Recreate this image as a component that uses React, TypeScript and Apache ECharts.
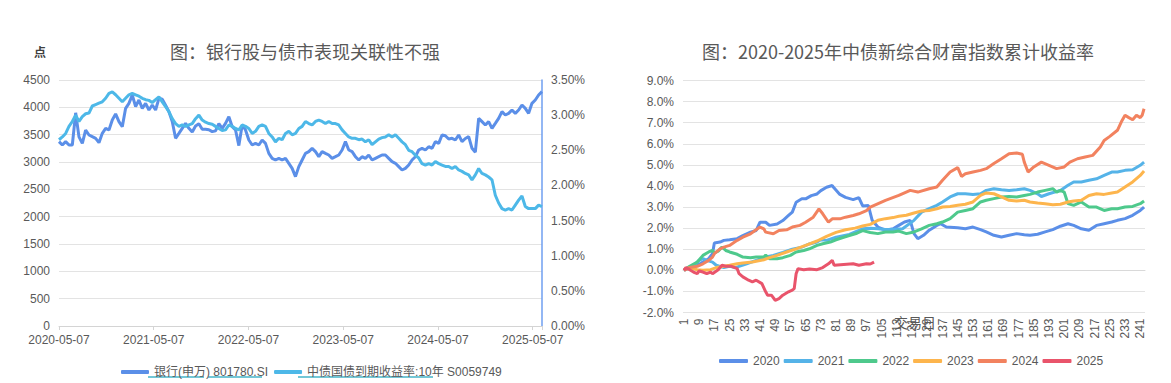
import React, { useEffect, useRef } from 'react';
import * as echarts from 'echarts';

// ---------- Left chart: bank index vs 10Y CGB yield ----------
const LEFT_TITLE = '图：银行股与债市表现关联性不强';
const LEFT_UNIT = '点';
const leftYearLabels = ['2020-05-07', '2021-05-07', '2022-05-07', '2023-05-07', '2024-05-07', '2025-05-07'];
const DAYS_PER_YEAR = 365.25;
const SAMPLE_DAYS = 12.84; // sampling step (calendar days) of the values below, starting 2020-05-07
const LEFT_MAX_DAY = 1862;
const BANK_NAME = '银行(申万) 801780.SI';
const YIELD_NAME = '中债国债到期收益率:10年 S0059749';

const bankIndex = [
  3372, 3311, 3372, 3311, 3311, 3900, 3460, 3341, 3585, 3494,
  3463, 3433, 3354, 3524, 3616, 3585, 3768, 3880, 3738, 3646,
  3982, 4073, 4226, 4012, 4134, 3982, 4073, 3951, 4043, 3951,
  4165, 4150, 4040, 3920, 3740, 3433, 3524, 3616, 3707, 3616,
  3550, 3660, 3700, 3600, 3600, 3590, 3555, 3570, 3700, 3616,
  3707, 3829, 3646, 3585, 3300, 3677, 3585, 3402, 3311, 3341,
  3311, 3402, 3341, 3158, 3067, 3036, 3067, 3036, 3067, 2976,
  2884, 2732, 2915, 3036, 3158, 3189, 3250, 3189, 3097, 3189,
  3158, 3128, 3067, 3097, 3128, 3219, 3372, 3219, 3189, 3097,
  3036, 3097, 3067, 3128, 3036, 3067, 3097, 3128,
  3128, 3067, 3006, 2976, 2915, 2854, 2884, 2945, 3036, 3097,
  3219, 3250, 3219, 3280, 3250, 3372, 3341, 3494, 3480, 3420,
  3433, 3402, 3494, 3372, 3430, 3463, 3250, 3180, 3799, 3738,
  3677, 3738, 3616, 3707, 3799, 3921, 3860, 3890, 3951, 3890,
  3951, 4043, 3982, 3890, 4073, 4134, 4226, 4287,
];

const bondYield10y = [
  2.65, 2.69, 2.74, 2.84, 2.91, 3.0, 2.91, 2.98, 3.02, 3.03,
  3.13, 3.15, 3.17, 3.19, 3.24, 3.31, 3.33, 3.29, 3.24, 3.19,
  3.24, 3.29, 3.31, 3.29, 3.27, 3.24, 3.22, 3.21, 3.18, 3.22,
  3.26, 3.19, 3.12, 3.05, 2.95, 2.88, 2.84, 2.86, 2.84, 2.86,
  2.88, 2.95, 3.0, 2.93, 2.9, 2.88, 2.87, 2.84, 2.81, 2.78,
  2.79, 2.86, 2.84, 2.81, 2.79, 2.86, 2.84, 2.81, 2.74, 2.77,
  2.84, 2.86, 2.84, 2.74, 2.69, 2.62, 2.67, 2.65, 2.74, 2.77,
  2.72, 2.74, 2.81, 2.84, 2.91, 2.88, 2.86, 2.91, 2.93, 2.91,
  2.88, 2.91, 2.88, 2.88, 2.86, 2.79, 2.74, 2.69, 2.67, 2.67,
  2.65, 2.66, 2.62, 2.65, 2.58, 2.62, 2.66, 2.68,
  2.69, 2.72, 2.69, 2.72, 2.67, 2.62, 2.58, 2.5, 2.48, 2.43,
  2.39, 2.31, 2.29, 2.31, 2.29, 2.34, 2.31, 2.29, 2.27, 2.27,
  2.24, 2.27, 2.22, 2.2, 2.17, 2.15, 2.08, 2.15, 2.24, 2.17,
  2.15, 2.12, 2.08, 1.86, 1.75, 1.67, 1.65, 1.67, 1.65, 1.72,
  1.79, 1.85, 1.7, 1.67, 1.67, 1.67, 1.72, 1.7,
];

// ---------- Right chart: cumulative return by year (trading day index, %) ----------
const RIGHT_TITLE = '图：2020-2025年中债新综合财富指数累计收益率';
const RIGHT_X_NAME = '交易日';
const TRADING_DAY_COUNT = 243;
const tradingDays = Array.from({ length: TRADING_DAY_COUNT }, (_, i) => String(i + 1));
const yearNames = ['2020', '2021', '2022', '2023', '2024', '2025'];

const ret2020: [number, number][] = [
  [0, 0.03], [3, 0.13], [7, 0.24], [10, 0.39], [13, 0.55], [15, 0.79], [16, 1.3], [19, 1.34], [21, 1.42], [24, 1.45],
  [28, 1.5], [31, 1.65], [35, 1.81], [38, 1.89], [40, 2.28], [43, 2.28], [45, 2.13], [49, 2.2], [52, 2.36], [55, 2.6],
  [57, 2.76], [59, 3.23], [62, 3.39], [64, 3.39], [67, 3.54], [70, 3.62], [72, 3.78], [75, 3.94], [78, 4.02], [79, 3.9],
  [82, 3.6], [85, 3.46], [89, 3.35], [92, 3.45], [94, 3.05], [97, 3.07], [99, 2.37], [102, 2.05], [106, 1.9], [110, 1.97],
  [113, 2.13], [116, 2.29], [119, 2.37], [121, 1.74], [123, 1.5], [126, 1.66], [129, 1.9], [133, 2.13], [135, 2.21], [138, 2.05],
  [144, 2.02], [148, 1.97], [152, 2.05], [156, 1.93], [159, 1.82], [163, 1.66], [167, 1.58], [171, 1.66], [175, 1.74], [179, 1.69],
  [182, 1.66], [186, 1.71], [190, 1.82], [194, 1.93], [198, 2.09], [202, 2.21], [205, 2.13], [209, 1.97], [213, 1.9], [217, 2.13],
  [221, 2.21], [225, 2.29], [228, 2.37], [232, 2.45], [236, 2.61], [240, 2.84], [242, 3.0],
];
const ret2021: [number, number][] = [
  [0, 0], [3, 0.13], [6, 0.31], [8, 0.47], [10, 0.55], [12, 0.47], [15, 0.39], [17, 0.24], [21, 0.13], [24, 0.19],
  [27, 0.13], [29, 0.19], [33, 0.31], [38, 0.47], [43, 0.63], [47, 0.71], [52, 0.85], [57, 1.0], [62, 1.1], [66, 1.25],
  [70, 1.34], [72, 1.45], [75, 1.42], [80, 1.57], [87, 1.7], [92, 1.89], [94, 1.97], [98, 2.0], [102, 1.97], [106, 1.93],
  [110, 1.93], [115, 1.97], [121, 2.37], [125, 2.76], [129, 2.92], [133, 3.08], [136, 3.24], [140, 3.48], [144, 3.63], [148, 3.63],
  [152, 3.6], [156, 3.63], [159, 3.79], [163, 3.87], [167, 3.82], [171, 3.79], [175, 3.82], [179, 3.87], [182, 3.79], [186, 3.63],
  [188, 3.5], [192, 3.63], [198, 3.79], [202, 4.03], [205, 4.19], [209, 4.19], [213, 4.27], [217, 4.34], [221, 4.5], [225, 4.66],
  [228, 4.66], [232, 4.74], [236, 4.77], [240, 4.98], [242, 5.13],
];
const ret2022: [number, number][] = [
  [0, 0], [3, 0.19], [7, 0.39], [10, 0.71], [13, 0.87], [15, 0.94], [16, 0.82], [18, 0.91], [20, 1.1], [22, 0.94],
  [24, 0.87], [28, 0.76], [31, 0.63], [35, 0.6], [38, 0.63], [42, 0.63], [43, 0.72], [45, 0.55], [49, 0.55], [52, 0.6],
  [56, 0.71], [59, 0.87], [63, 0.94], [66, 1.02], [70, 1.18], [73, 1.26], [77, 1.34], [80, 1.45], [84, 1.57], [87, 1.65],
  [91, 1.76], [94, 1.88], [98, 1.79], [102, 1.74], [106, 1.82], [110, 1.82], [113, 1.86], [117, 1.74], [121, 1.82], [125, 1.97],
  [129, 2.13], [133, 2.21], [136, 2.29], [140, 2.45], [144, 2.76], [148, 2.84], [152, 2.92], [156, 3.24], [159, 3.32], [163, 3.4],
  [167, 3.48], [171, 3.5], [175, 3.48], [179, 3.55], [182, 3.6], [186, 3.71], [190, 3.79], [194, 3.87], [196, 3.71], [198, 3.79],
  [200, 3.71], [202, 3.16], [205, 3.08], [209, 3.24], [213, 3.0], [217, 3.0], [221, 2.84], [225, 2.92], [228, 2.92], [232, 3.0],
  [236, 3.03], [240, 3.16], [242, 3.29],
];
const ret2023: [number, number][] = [
  [0, 0.03], [3, 0.13], [7, 0.03], [10, 0], [14, 0.03], [17, 0.13], [21, 0.19], [24, 0.24], [28, 0.31], [31, 0.35],
  [36, 0.39], [42, 0.5], [45, 0.6], [49, 0.71], [54, 0.87], [59, 1.02], [64, 1.18], [70, 1.39], [75, 1.61], [80, 1.8],
  [85, 1.92], [90, 2.0], [94, 2.1], [98, 2.18], [102, 2.37], [106, 2.45], [110, 2.5], [113, 2.56], [117, 2.61], [121, 2.72],
  [125, 2.81], [129, 2.84], [133, 2.92], [136, 3.0], [140, 3.03], [144, 3.08], [148, 3.13], [152, 3.24], [156, 3.55], [159, 3.67],
  [163, 3.63], [167, 3.48], [171, 3.32], [175, 3.29], [179, 3.32], [182, 3.24], [186, 3.19], [190, 3.16], [194, 3.11], [198, 3.13],
  [202, 3.24], [205, 3.29], [209, 3.32], [213, 3.55], [217, 3.63], [221, 3.6], [225, 3.67], [228, 3.71], [232, 3.95], [236, 4.19],
  [240, 4.5], [242, 4.71],
];
const ret2024: [number, number][] = [
  [0, 0], [3, 0.13], [7, 0.19], [10, 0.31], [13, 0.47], [15, 0.63], [16, 0.79], [19, 1.02], [21, 1.1], [24, 1.18],
  [28, 1.42], [31, 1.57], [35, 1.73], [38, 1.92], [40, 2.05], [42, 1.97], [43, 1.81], [47, 1.73], [50, 1.89], [54, 1.92],
  [57, 2.05], [61, 2.13], [64, 2.28], [68, 2.52], [71, 2.91], [73, 2.68], [76, 2.28], [78, 2.44], [82, 2.44], [85, 2.52],
  [89, 2.6], [92, 2.68], [96, 2.83], [98, 3.0], [106, 3.32], [113, 3.55], [119, 3.79], [123, 3.71], [129, 3.87], [133, 3.95],
  [136, 4.27], [140, 4.66], [144, 4.87], [146, 4.45], [148, 4.58], [152, 4.66], [156, 4.74], [159, 4.82], [163, 5.06], [167, 5.29],
  [171, 5.53], [175, 5.56], [178, 5.5], [179, 5.13], [181, 4.66], [184, 4.9], [188, 5.13], [192, 4.98], [196, 4.82], [200, 4.9],
  [203, 5.13], [207, 5.29], [211, 5.37], [215, 5.45], [219, 5.85], [221, 6.16], [224, 6.35], [228, 6.64], [230, 7.03], [232, 7.35],
  [234, 7.24], [236, 7.14], [238, 7.35], [240, 7.24], [241, 7.35], [242, 7.66],
];
const ret2025: [number, number][] = [
  [0, 0], [1, 0.13], [3, 0.03], [5, -0.08], [7, -0.16], [8, -0.03], [10, -0.08], [12, -0.16], [14, -0.08], [15, -0.16],
  [18, 0.03], [20, 0.24], [22, 0.19], [25, 0.19], [28, 0.08], [29, -0.16], [31, -0.31], [34, -0.47], [36, -0.55], [38, -0.47],
  [41, -0.63], [43, -1.02], [44, -1.18], [46, -1.18], [48, -1.42], [50, -1.34], [52, -1.18], [55, -1.02], [57, -0.94], [58, -0.87],
  [59, -0.16], [60, 0.08], [63, 0.03], [66, 0.06], [70, 0.03], [73, 0.13], [76, 0.31], [78, 0.47], [79, 0.24], [84, 0.28],
  [89, 0.31], [92, 0.24], [96, 0.31], [98, 0.3], [100, 0.39],
];
const yearSeries = [ret2020, ret2021, ret2022, ret2023, ret2024, ret2025];
const yearColors = ['#5b8fe8', '#55b3e8', '#4ec98c', '#fdb54d', '#f2825f', '#e9546b'];

const CJK = "'Noto Sans CJK SC', 'Liberation Sans', sans-serif";
const LATIN = "'Liberation Sans', 'Noto Sans CJK SC', sans-serif";
const TEXT = '#595959';
const GRID_LINE = '#e3e3e3';
const LINK_LINE = '#45b5c9';

function underline(x1: number, x2: number, y: number) {
  return { type: 'line' as const, shape: { x1, y1: y, x2, y2: y }, style: { stroke: LINK_LINE, lineWidth: 1.5 }, silent: true };
}

function buildOption(): echarts.EChartsOption {
  const bankData = bankIndex.map((v, i) => [i * SAMPLE_DAYS, v]);
  const yieldData = bondYield10y.map((v, i) => [i * SAMPLE_DAYS, v]);
  return {
    animation: false,
    textStyle: { fontFamily: LATIN },
    title: [
      { text: LEFT_TITLE, left: 305, top: 42, padding: 0, textAlign: 'center',
        textStyle: { fontSize: 18, fontWeight: 'normal', color: TEXT, fontFamily: CJK } },
      { text: RIGHT_TITLE, left: 898, top: 42, padding: 0, textAlign: 'center',
        textStyle: { fontSize: 18, fontWeight: 'normal', color: TEXT, fontFamily: CJK } },
    ],
    graphic: [
      { type: 'text', left: 34, top: 45, style: { text: LEFT_UNIT, fill: '#404040', font: `bold 12px ${CJK}` } },
      { type: 'text', x: 915, y: 322, style: { text: RIGHT_X_NAME, fill: TEXT, font: `14px ${CJK}`, align: 'center', verticalAlign: 'middle' } },
      underline(148, 204, 377),
      underline(208, 262, 377),
      underline(298, 433, 377),
    ],
    legend: [
      { data: [BANK_NAME, YIELD_NAME], left: 116, top: 361, icon: 'roundRect', itemWidth: 28, itemHeight: 4, itemGap: 6,
        textStyle: { fontSize: 12, color: TEXT, fontFamily: LATIN } },
      { data: yearNames, left: 714, top: 350, icon: 'roundRect', itemWidth: 29, itemHeight: 4, itemGap: 4,
        textStyle: { fontSize: 12, color: TEXT, fontFamily: LATIN } },
    ],
    grid: [
      { left: 59, right: 629, top: 80, bottom: 57 },
      { left: 683, right: 26, top: 80.5, bottom: 70.5 },
    ],
    xAxis: [
      {
        gridIndex: 0, type: 'value', min: 0, max: LEFT_MAX_DAY, interval: DAYS_PER_YEAR,
        axisLine: { lineStyle: { color: '#d4d4d4' } },
        axisTick: { show: true, length: 4, lineStyle: { color: '#d4d4d4' } },
        splitLine: { show: false },
        axisLabel: {
          color: TEXT, fontSize: 12, margin: 8,
          formatter: (v: number) => {
            const k = Math.round(v / DAYS_PER_YEAR);
            return Math.abs(v - k * DAYS_PER_YEAR) < 1 ? leftYearLabels[k] ?? '' : '';
          },
        },
      },
      {
        gridIndex: 1, type: 'category', data: tradingDays, boundaryGap: true,
        axisLine: { lineStyle: { color: '#d9d9d9' } },
        axisTick: { show: false },
        axisLabel: { interval: 7, rotate: 90, color: TEXT, fontSize: 12, margin: 6 },
      },
    ],
    yAxis: [
      {
        gridIndex: 0, type: 'value', min: 0, max: 4500, interval: 500,
        axisLine: { show: false }, axisTick: { show: false },
        splitLine: { lineStyle: { color: GRID_LINE } },
        axisLabel: { color: TEXT, fontSize: 12, margin: 9, formatter: (v: number) => String(v) },
      },
      {
        gridIndex: 0, type: 'value', min: 0, max: 3.5, interval: 0.5, position: 'right',
        axisLine: { show: true, lineStyle: { color: '#6f9ff0', width: 1.5 } }, axisTick: { show: false },
        splitLine: { show: false },
        axisLabel: { color: TEXT, fontSize: 12, margin: 9, formatter: (v: number) => `${v.toFixed(2)}%` },
      },
      {
        gridIndex: 1, type: 'value', min: -2, max: 9, interval: 1,
        axisLine: { show: false }, axisTick: { show: false },
        splitLine: { lineStyle: { color: GRID_LINE } },
        axisLabel: { color: TEXT, fontSize: 12, margin: 9, formatter: (v: number) => `${v.toFixed(1)}%` },
      },
    ],
    series: [
      { name: BANK_NAME, type: 'line', xAxisIndex: 0, yAxisIndex: 0, data: bankData, showSymbol: false, symbol: 'none',
        color: '#5b8fe8', lineStyle: { width: 3, color: '#5b8fe8' }, emphasis: { disabled: true } },
      { name: YIELD_NAME, type: 'line', xAxisIndex: 0, yAxisIndex: 1, data: yieldData, showSymbol: false, symbol: 'none',
        color: '#4db8e8', lineStyle: { width: 3, color: '#4db8e8' }, emphasis: { disabled: true } },
      ...yearSeries.map((d, i) => ({
        name: yearNames[i], type: 'line' as const, xAxisIndex: 1, yAxisIndex: 2, data: d, showSymbol: false, symbol: 'none',
        color: yearColors[i], lineStyle: { width: 3, color: yearColors[i] }, emphasis: { disabled: true },
      })),
    ],
  };
}

export default function App() {
  const ref = useRef<HTMLDivElement>(null);
  useEffect(() => {
    document.body.style.margin = '0';
    const chart = echarts.init(ref.current!, undefined, { renderer: 'svg' });
    chart.setOption(buildOption());
    return () => chart.dispose();
  }, []);
  return <div ref={ref} style={{ width: 1171, height: 383 }} />;
}
